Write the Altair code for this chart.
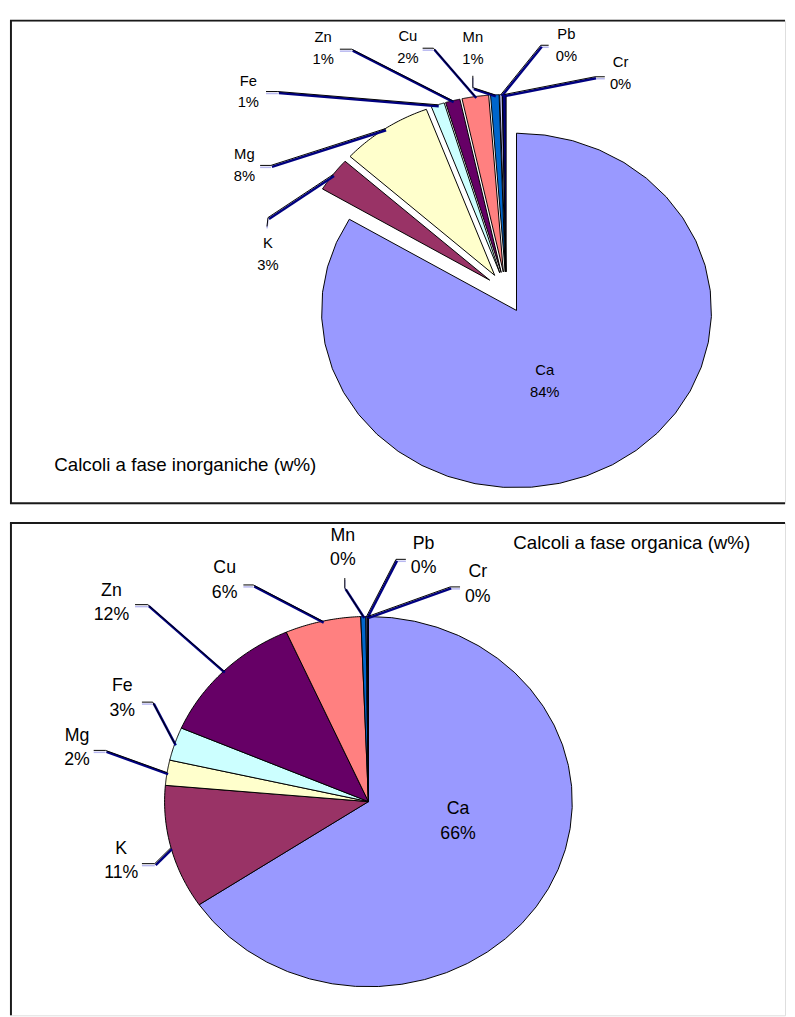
import math
import altair as alt
import pandas as pd

# ---------------- data ----------------
elements = ["Ca", "K", "Mg", "Fe", "Zn", "Cu", "Mn", "Pb", "Cr"]
inorganic_pct = [83.6, 3.1, 7.6, 1.1, 1.2, 2.2, 0.7, 0.2, 0.3]
organic_pct = [65.6, 10.8, 2.2, 2.9, 11.9, 6.0, 0.4, 0.1, 0.1]
slice_colors = ["#9999FF", "#993366", "#FFFFCC", "#CCFFFF", "#660066",
                "#FF8080", "#0066CC", "#CCCCFF", "#000080"]
title_inorganic = "Calcoli a fase inorganiche (w%)"
title_organic = "Calcoli a fase organica (w%)"

# ---------------- layout / style ----------------
FONT = "Liberation Sans"
PAGE_W = 787
TOP_ORIGIN = (8, 11)
BOT_ORIGIN = (8, 517)
TOP_H = 490
BOT_H = 500
STEPS = 36  # polygon segments per slice (Excel-like faceted outline)

# label layout in page pixels: name centre, leader start, leader joint
LAYOUT_TOP = {
    "Ca": ((551, 366), None, None),
    "K": ((270, 237), (269, 220), (270, 211)),
    "Mg": ((246, 147), (262, 158), (273, 158)),
    "Fe": ((250, 72), (268, 83), (280, 83)),
    "Zn": ((326, 28), (343, 40), (355, 40)),
    "Cu": ((412, 27), (427, 39), (438, 39)),
    "Mn": ((478, 28), (478, 67), (478, 79)),
    "Pb": ((573, 25), (555, 36), (547, 36)),
    "Cr": ((628, 53), (612, 68), (602, 68)),
}
LAYOUT_BOT = {
    "Ca": ((463, 808), None, None),
    "K": ((121, 848), (142, 863), (155, 863)),
    "Mg": ((76, 733), (93, 748), (105, 748)),
    "Fe": ((122, 683), (142, 699), (153, 699)),
    "Zn": ((111, 586), (135, 600), (148, 600)),
    "Cu": ((226, 563), (245, 580), (255, 580)),
    "Mn": ((346, 530), (348, 573), (348, 583)),
    "Pb": ((428, 538), (410, 554), (400, 554)),
    "Cr": ((483, 567), (465, 582), (455, 582)),
}


def build_table(values, layout, origin):
    ox, oy = origin
    rows = []
    for i, (el, v) in enumerate(zip(elements, values)):
        (lx, ly), p1, p2 = layout[el]
        row = {"element": el, "value": v, "order": i,
               "lx": lx - ox, "ly": ly - oy}
        if p1 is not None:
            row.update({"p1x": p1[0] - ox, "p1y": p1[1] - oy,
                        "p2x": p2[0] - ox, "p2y": p2[1] - oy})
        rows.append(row)
    return pd.DataFrame(rows)


def panel(values, layout, origin, H, center, rx, ry, explode, fs, gap,
          title, title_pos):
    df = build_table(values, layout, origin)
    cx, cy = center[0] - origin[0], center[1] - origin[1]
    xs = alt.Scale(domain=[0, PAGE_W], nice=False, zero=False)
    ys = alt.Scale(domain=[0, H], nice=False, zero=False, reverse=True)

    def X(f):
        return alt.X(f, scale=xs, axis=None)

    def Y(f):
        return alt.Y(f, scale=ys, axis=None)

    base = (
        alt.Chart(df)
        .transform_window(end="sum(value)", sort=[alt.SortField("order")],
                          frame=[None, 0])
        .transform_calculate(start="datum.end - datum.value")
        .transform_calculate(mid="(datum.end - datum.value / 2) * 2 * PI / 100")
        .transform_calculate(cx=f"{cx} + {explode} * sin(datum.mid)")
        .transform_calculate(cy=f"{cy} - {explode} * cos(datum.mid)")
        .transform_calculate(ex=f"datum.cx + {rx} * sin(datum.mid)")
        .transform_calculate(ey=f"datum.cy - {ry} * cos(datum.mid)")
        .transform_calculate(pct="format(datum.value, '.0f') + '%'")
        .transform_calculate(ly2=f"datum.ly + {gap}")
    )

    # elliptical pie slices as filled polygons: tip, arc points, tip
    poly = (
        base.transform_calculate(k=f"sequence(0, {STEPS + 3})")
        .transform_flatten(["k"])
        .transform_calculate(
            tip=f"datum.k == 0 || datum.k == {STEPS + 2}")
        .transform_calculate(
            a=f"(datum.start + datum.value * (datum.k - 1) / {STEPS}) * 2 * PI / 100")
        .transform_calculate(
            px=f"datum.tip ? datum.cx : datum.cx + {rx} * sin(datum.a)")
        .transform_calculate(
            py=f"datum.tip ? datum.cy : datum.cy - {ry} * cos(datum.a)")
    )
    slices = poly.mark_line(stroke="black", strokeWidth=1,
                            strokeJoin="miter", strokeMiterLimit=2).encode(
        x=X("px:Q"),
        y=Y("py:Q"),
        order=alt.Order("k:Q"),
        detail="element:N",
        fill=alt.Fill("element:N", legend=None,
                      scale=alt.Scale(domain=elements, range=slice_colors)),
    )

    lead = base.transform_filter("isValid(datum.p1x)")
    short_shadow = lead.mark_rule(color="#B8B8F0", strokeWidth=1.5,
                                  yOffset=2, y2Offset=2).encode(
        x=X("p1x:Q"), y=Y("p1y:Q"), x2="p2x:Q", y2="p2y:Q")
    short = lead.mark_rule(color="black", strokeWidth=1).encode(
        x=X("p1x:Q"), y=Y("p1y:Q"), x2="p2x:Q", y2="p2y:Q")
    diag_navy = lead.mark_rule(color="#000080", strokeWidth=2.5,
                               xOffset=1, x2Offset=1,
                               yOffset=1.5, y2Offset=1.5).encode(
        x=X("p2x:Q"), y=Y("p2y:Q"), x2="ex:Q", y2="ey:Q")
    diag_black = lead.mark_rule(color="black", strokeWidth=1).encode(
        x=X("p2x:Q"), y=Y("p2y:Q"), x2="ex:Q", y2="ey:Q")

    names = base.mark_text(font=FONT, fontSize=fs, color="black",
                           align="center", baseline="middle").encode(
        x=X("lx:Q"), y=Y("ly:Q"), text="element:N")
    pcts = base.mark_text(font=FONT, fontSize=fs, color="black",
                          align="center", baseline="middle").encode(
        x=X("lx:Q"), y=Y("ly2:Q"), text="pct:N")

    ttl = alt.Chart(pd.DataFrame({"t": [title]})).mark_text(
        font=FONT, fontSize=19, color="black", align="left",
        baseline="middle").encode(
        x=alt.value(title_pos[0] - origin[0]),
        y=alt.value(title_pos[1] - origin[1]), text="t:N")

    return alt.layer(slices, short_shadow, short, diag_navy, diag_black,
                     names, pcts, ttl).properties(width=PAGE_W, height=H)


def borders(H, bottom):
    d = pd.DataFrame({"k": [0]})
    left = alt.Chart(d).mark_rule(color="#1a1a1a", strokeWidth=2).encode(
        x=alt.value(1), y=alt.value(0), y2=alt.value(H))
    top = alt.Chart(d).mark_rule(color="#1a1a1a", strokeWidth=2).encode(
        x=alt.value(0), x2=alt.value(PAGE_W), y=alt.value(0))
    layers = [left, top]
    if bottom:
        layers.append(alt.Chart(d).mark_rule(color="#1a1a1a", strokeWidth=2).encode(
            x=alt.value(0), x2=alt.value(PAGE_W), y=alt.value(H)))
    return layers


top_panel = panel(inorganic_pct, LAYOUT_TOP, TOP_ORIGIN, TOP_H,
                  center=(512, 287), rx=198, ry=180, explode=21, fs=15, gap=22,
                  title=title_inorganic, title_pos=(53, 462))
bot_panel = panel(organic_pct, LAYOUT_BOT, BOT_ORIGIN, BOT_H,
                  center=(372, 800), rx=207, ry=188, explode=0, fs=18, gap=25,
                  title=title_organic, title_pos=(519, 537))

top_chart = alt.layer(top_panel, *borders(TOP_H, True)).properties(
    width=PAGE_W, height=TOP_H)
bot_chart = alt.layer(bot_panel, *borders(BOT_H, False)).properties(
    width=PAGE_W, height=BOT_H)

chart = (
    alt.vconcat(top_chart, bot_chart, spacing=16)
    .properties(padding={"left": 0, "top": 3, "right": 0, "bottom": 0})
    .configure_view(stroke=None)
    .configure(background="white")
)

chart.save("out.html", embed_options={"renderer": "svg", "actions": False})
